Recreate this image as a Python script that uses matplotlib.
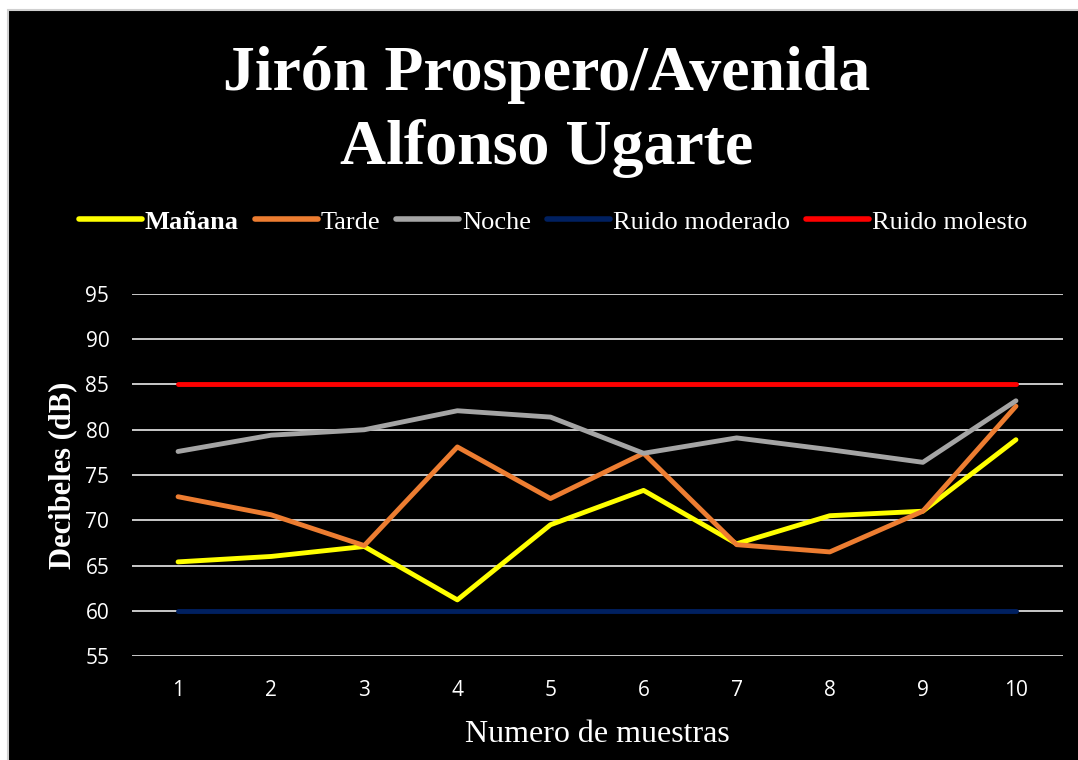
import matplotlib
matplotlib.use('Agg')
import matplotlib.pyplot as plt
from matplotlib.patches import Rectangle

# data
muestras = [1, 2, 3, 4, 5, 6, 7, 8, 9, 10]
manana = [65.4, 66.0, 67.1, 61.2, 69.5, 73.3, 67.4, 70.5, 71.0, 78.9]
tarde = [72.6, 70.6, 67.2, 78.1, 72.4, 77.4, 67.3, 66.5, 71.0, 82.6]
noche = [77.6, 79.4, 80.0, 82.1, 81.4, 77.4, 79.1, 77.8, 76.4, 83.2]
ruido_moderado = [60] * 10
ruido_molesto = [85] * 10
yticks = [55, 60, 65, 70, 75, 80, 85, 90, 95]

SERIF = 'Liberation Serif'
SANS = 'Open Sans'

fig = plt.figure(figsize=(10.78, 7.6), dpi=100, facecolor='white')

# black chart area with thin grey frame (runs off the right/bottom edges)
fig.patches.append(Rectangle(
    (7.5 / 1078, -0.05), 1.1, 1.05 - 10.5 / 760,
    transform=fig.transFigure, facecolor='black', edgecolor='#d0d0d0',
    linewidth=1.5, zorder=-5,
))

ax = fig.add_axes([131.5 / 1078, 1 - 656 / 760, 931 / 1078, 362 / 760])
ax.set_facecolor('black')

series = [
    ('Mañana', manana, '#FFFF00'),
    ('Tarde', tarde, '#ED7D31'),
    ('Noche', noche, '#A5A5A5'),
    ('Ruido moderado', ruido_moderado, '#002060'),
    ('Ruido molesto', ruido_molesto, '#FF0000'),
]
for label, values, color in series:
    ax.plot(muestras, values, color=color, linewidth=3.5, label=label,
            solid_capstyle='round', solid_joinstyle='round', zorder=3)

ax.set_xlim(0.5, 10.5)
ax.set_ylim(55, 95)
ax.set_xticks(muestras)
ax.set_yticks(yticks)
ax.grid(axis='y', color='#d9d9d9', linewidth=1.3, zorder=1)
ax.set_axisbelow(True)
for side in ax.spines.values():
    side.set_visible(False)
ax.tick_params(length=0, colors='white', labelsize=15)
ax.tick_params(axis='x', pad=17)
ax.tick_params(axis='y', pad=16)
for lbl in ax.get_xticklabels() + ax.get_yticklabels():
    lbl.set_fontfamily(SANS)

ax.set_xlabel('Numero de muestras', fontfamily=SERIF, fontsize=23,
              color='white', labelpad=14)
ax.set_ylabel('Decibeles (dB)', fontfamily=SERIF, fontsize=22,
              fontweight='bold', color='white', labelpad=6)

fig.text(0.507, 1 - 112 / 760, 'Jirón Prospero/Avenida\nAlfonso Ugarte',
         ha='center', va='center', fontfamily=SERIF, fontsize=46,
         fontweight='bold', color='white', linespacing=1.32)

leg = fig.legend(loc='center', bbox_to_anchor=(0.513, 1 - 222 / 760),
                 ncol=5, frameon=False, handlelength=2.4, handletextpad=0.1,
                 columnspacing=0.6, prop={'family': SERIF, 'size': 19})
for t in leg.get_texts():
    t.set_color('white')
for h in leg.get_lines():
    h.set_linewidth(4)
leg.get_texts()[0].set_fontweight('bold')

fig.savefig('out.png', dpi=100, facecolor='white')
